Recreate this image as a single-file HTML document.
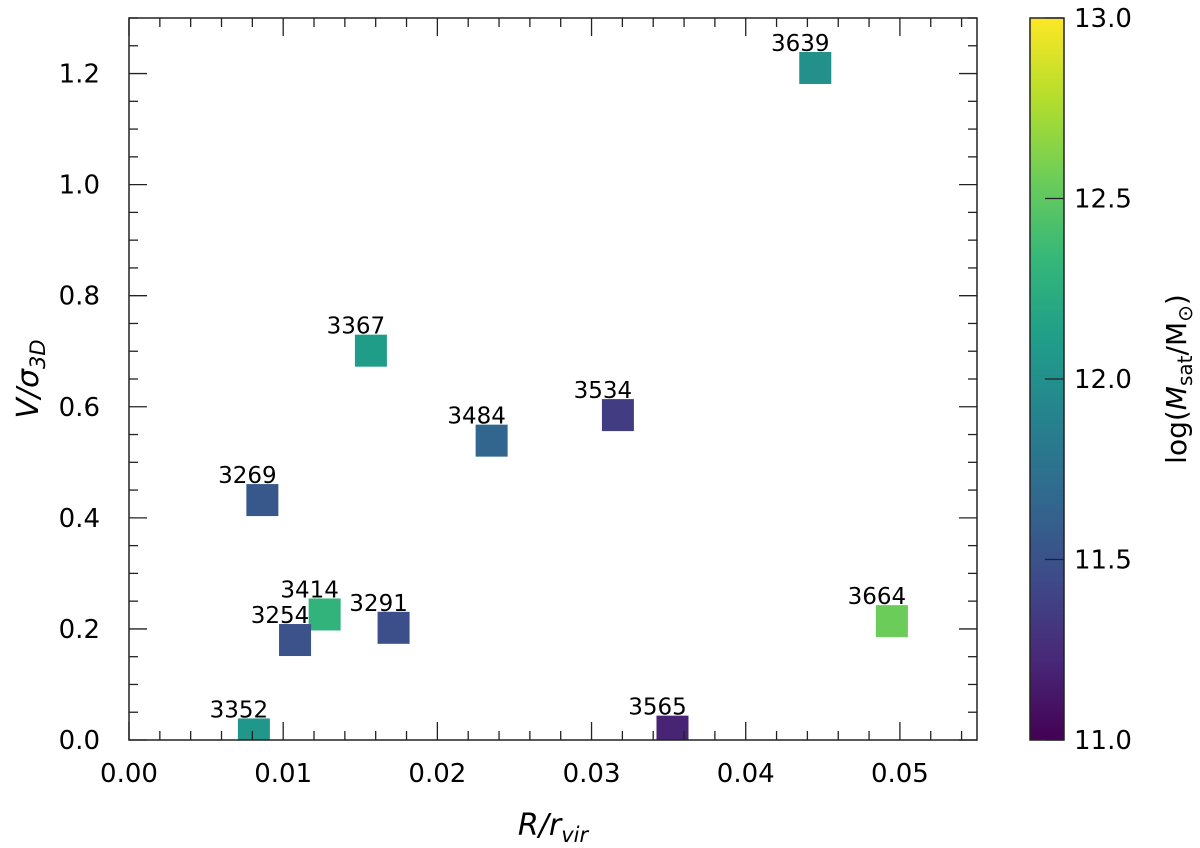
<!DOCTYPE html>
<html><head><meta charset="utf-8"><style>
body{margin:0;background:#fff}
svg{display:block;font-family:"DejaVu Sans","Liberation Sans",sans-serif}
</style></head><body>
<svg id="chart" width="1200" height="848" viewBox="0 0 1200 848" xmlns="http://www.w3.org/2000/svg"></svg>
<script>
const ids = ["3639","3367","3534","3484","3269","3414","3254","3291","3352","3565","3664"];
const radius = [0.04451,0.01569,0.03171,0.02352,0.00865,0.01269,0.01077,0.01716,0.0081,0.03525,0.04948];
const velocity = [1.21,0.701,0.585,0.539,0.432,0.226,0.180,0.202,0.01,0.015,0.214];
const logMass = [12.0,12.1,11.35,11.65,11.55,12.3,11.5,11.48,12.05,11.2,12.55];
const xTicks = [0,0.01,0.02,0.03,0.04,0.05];
const xTickLabels = ["0.00","0.01","0.02","0.03","0.04","0.05"];
const yTicks = [0,0.2,0.4,0.6,0.8,1.0,1.2];
const yTickLabels = ["0.0","0.2","0.4","0.6","0.8","1.0","1.2"];
const cTicks = [11.0,11.5,12.0,12.5,13.0];
const cTickLabels = ["11.0","11.5","12.0","12.5","13.0"];

const NS="http://www.w3.org/2000/svg";
const svg=document.getElementById('chart');
const L=129,R=977,T=18,B=740;
const X0=0,X1=0.055,Y0=0,Y1=1.3,C0=11,C1=13;
const sx=v=>L+(v-X0)/(X1-X0)*(R-L);
const sy=v=>B-(v-Y0)/(Y1-Y0)*(B-T);
const CL=1030,CR=1064;
const sc=v=>B-(v-C0)/(C1-C0)*(B-T);
const vir=[[68,1,84],[72,40,120],[62,74,137],[49,104,142],[38,130,142],[31,158,137],[53,183,121],[109,205,89],[180,222,44],[253,231,37]];
function color(m){let t=Math.max(0,Math.min(1,(m-C0)/(C1-C0)))*(vir.length-1);let i=Math.min(vir.length-2,Math.floor(t)),f=t-i;
const c=vir[i].map((a,k)=>Math.round(a+(vir[i+1][k]-a)*f));return `rgb(${c})`;}
function el(tag,attrs,parent){const e=document.createElementNS(NS,tag);for(const k in attrs)e.setAttribute(k,attrs[k]);(parent||svg).appendChild(e);return e;}

// clip
const defs=el('defs',{});
const cp=el('clipPath',{id:'plotclip'},defs);
el('rect',{x:L,y:T,width:R-L,height:B-T},cp);
const grad=el('linearGradient',{id:'vgrad',x1:0,y1:1,x2:0,y2:0},defs);
vir.forEach((c,i)=>el('stop',{offset:(i/(vir.length-1)),'stop-color':`rgb(${c})`},grad));

// points
const pg=el('g',{'clip-path':'url(#plotclip)'});


const S=32;
ids.forEach((id,i)=>{
  const cx=sx(radius[i]),cy=sy(velocity[i]);
  const r=el('rect',{x:cx-S/2,y:cy-S/2,width:S,height:S,fill:color(logMass[i])},pg);
  
  
});
ids.forEach((id,i)=>{
  const cx=sx(radius[i]),cy=sy(velocity[i]);
  const t=el('text',{x:cx-15,y:cy-S/2-1,'text-anchor':'middle','font-size':'23'});
  t.textContent=id;
  
  
});

// frame
const fr=el('rect',{x:L,y:T,width:R-L,height:B-T,fill:'none',stroke:'#222','stroke-width':1.5});


const tg=el('g',{stroke:'#222','stroke-width':1.3});


for(let k=0;k<=27;k++){const v=k*0.002;const x=sx(v);const maj=k%5===0;const len=maj?18:9;
  el('line',{x1:x,y1:B,x2:x,y2:B-len},tg);el('line',{x1:x,y1:T,x2:x,y2:T+len},tg);}
for(let k=0;k<=26;k++){const v=k*0.05;const y=sy(v);const maj=k%4===0;const len=maj?18:9;
  el('line',{x1:L,y1:y,x2:L+len,y2:y},tg);el('line',{x1:R,y1:y,x2:R-len,y2:y},tg);}
xTicks.forEach((v,i)=>{const t=el('text',{x:sx(v),y:B+42,'text-anchor':'middle','font-size':'26'});t.textContent=xTickLabels[i];
  });
yTicks.forEach((v,i)=>{const t=el('text',{x:100,y:sy(v)+9,'text-anchor':'end','font-size':'26'});t.textContent=yTickLabels[i];
  });

// axis titles
const xt=el('text',{x:(L+R)/2,y:835,'text-anchor':'middle','font-size':'30','font-style':'italic'});
xt.innerHTML='R/r<tspan font-size="21" dy="7">vir</tspan>';

const yt=el('text',{x:0,y:0,'text-anchor':'middle','font-size':'30','font-style':'italic',transform:`translate(38,${(T+B)/2}) rotate(-90)`});
yt.innerHTML='V/σ<tspan font-size="21" dy="7">3D</tspan>';


// colorbar
const cb=el('rect',{x:CL,y:T,width:CR-CL,height:B-T,fill:'url(#vgrad)',stroke:'#222','stroke-width':1.5});

cTicks.forEach((v,i)=>{const y=sc(v);el('line',{x1:CR-19,y1:y,x2:CR,y2:y,stroke:'#222','stroke-width':1.3});
  const t=el('text',{x:CR+10,y:y+9,'font-size':'26'});t.textContent=cTickLabels[i];
  });
const ct=el('text',{x:0,y:0,'text-anchor':'middle','font-size':'28',transform:`translate(1186,${(T+B)/2}) rotate(-90)`});
ct.innerHTML='log<tspan dy="-0">(</tspan><tspan font-style="italic">M</tspan><tspan font-size="20" dy="6">sat</tspan><tspan dy="-6">/M</tspan><tspan font-size="20" dy="6">⊙</tspan><tspan dy="-6">)</tspan>';

</script>
</body></html>
